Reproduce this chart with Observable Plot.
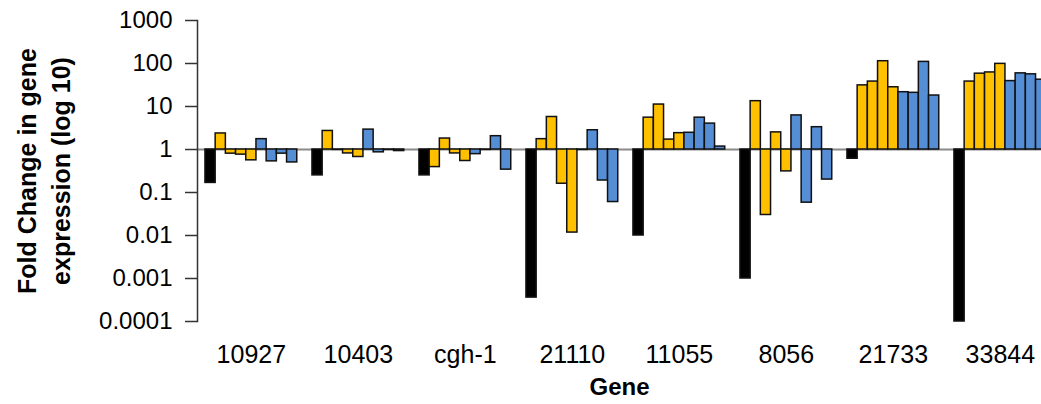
<!DOCTYPE html>
<html>
<head>
<meta charset="utf-8">
<script src="https://cdn.jsdelivr.net/npm/d3@7"></script>
<script src="https://cdn.jsdelivr.net/npm/@observablehq/plot@0.6"></script>
<style>
  html, body { margin: 0; padding: 0; background: #fff; overflow: hidden; }
  #chart svg { display: block; }
</style>
</head>
<body>
<div id="chart"></div>
<script>
// ---- Data ----
const genes = ["10927", "10403", "cgh-1", "21110", "11055", "8056", "21733", "33844"];
const seriesNames = ["Control", "Treatment A", "Treatment B"];
const seriesColors = ["#000000", "#FFC000", "#558ED5"];
// one bar per gene
const controlValues = [0.167, 0.25, 0.25, 0.00036, 0.01, 0.001, 0.61, 0.0001];
// four bars per gene
const orangeValues = [
  [2.36, 0.8, 0.76, 0.56],
  [2.7, 0.98, 0.81, 0.67],
  [0.39, 1.8, 0.81, 0.54],
  [1.74, 5.7, 0.16, 0.0117],
  [5.5, 11.1, 1.7, 2.4],
  [13.3, 0.03, 2.5, 0.31],
  [31, 38, 113, 28],
  [38, 58, 62, 98]
];
const blueValues = [
  [1.74, 0.53, 0.8, 0.5],
  [2.9, 0.86, 0.98, 0.92],
  [0.78, 0.98, 2.04, 0.34],
  [0.98, 2.8, 0.19, 0.06],
  [2.45, 5.5, 4.0, 1.17],
  [6.2, 0.058, 3.3, 0.2],
  [21.5, 20.8, 109, 18],
  [39, 59, 56, 42]
];
const yTicks = [1000, 100, 10, 1, 0.1, 0.01, 0.001, 0.0001];
const yTickLabels = ["1000", "100", "10", "1", "0.1", "0.01", "0.001", "0.0001"];
const baseline = 1;

// ---- Layout constants (bar units) ----
const GROUP_STEP = 10.49;   // distance between gene groups, in bar widths
const OFFSET = 0.78;        // gap between y axis and first bar, in bar widths
const BARS_PER_GROUP = 9;

const rows = [];
genes.forEach((g, gi) => {
  const vals = [
    [seriesNames[0], controlValues[gi]],
    ...orangeValues[gi].map(v => [seriesNames[1], v]),
    ...blueValues[gi].map(v => [seriesNames[2], v])
  ];
  vals.forEach(([s, v], bi) => {
    rows.push({gene: g, series: s, value: v, base: baseline, slot: gi * GROUP_STEP + OFFSET + bi});
  });
});
const centers = genes.map((g, gi) => ({gene: g, pos: gi * GROUP_STEP + OFFSET + BARS_PER_GROUP / 2}));

const font = "'Liberation Sans', Arial, sans-serif";

const chart = Plot.plot({
  width: 1041,
  height: 404,
  marginLeft: 197,
  marginRight: 0,
  marginTop: 20,
  marginBottom: 83,
  style: {fontFamily: font, fontSize: "22px", color: "#000", background: "#fff"},
  x: {type: "linear", domain: [0, 844 / 10.2], axis: null},
  y: {type: "log", domain: [0.0001, 1000], axis: null},
  color: {domain: seriesNames, range: seriesColors},
  marks: [
    Plot.ruleY([baseline], {stroke: "#8a8a8a", strokeWidth: 2}),
    Plot.rect(rows, {
      x1: "slot",
      x2: d => d.slot + 1,
      y1: "base",
      y2: "value",
      fill: "series",
      stroke: "#111",
      strokeWidth: 1.5,
      inset: 0
    }),
    Plot.axisY(yTicks, {
      tickSize: 12,
      tickPadding: 13,
      tickFormat: d => yTickLabels[yTicks.indexOf(d)],
      stroke: "#333",
      strokeWidth: 1.5,
      fontSize: 24,
      label: null
    }),
    Plot.frame({anchor: "left", stroke: "#333", strokeWidth: 1.5}),
    Plot.text(centers, {
      x: "pos",
      text: "gene",
      frameAnchor: "bottom",
      lineAnchor: "middle",
      dy: 33,
      fontSize: 25
    }),
    Plot.text(["Gene"], {
      frameAnchor: "bottom",
      lineAnchor: "middle",
      dy: 66,
      fontSize: 24,
      fontWeight: "bold",
      text: d => d
    }),
    Plot.text(["Fold Change in gene\nexpression (log 10)"], {
      frameAnchor: "left",
      textAnchor: "middle",
      rotate: -90,
      dx: -155,
      lineAnchor: "middle",
      lineHeight: 1.36,
      fontSize: 25,
      fontWeight: "bold",
      text: d => d
    })
  ]
});
document.getElementById("chart").appendChild(chart);
</script>
</body>
</html>
